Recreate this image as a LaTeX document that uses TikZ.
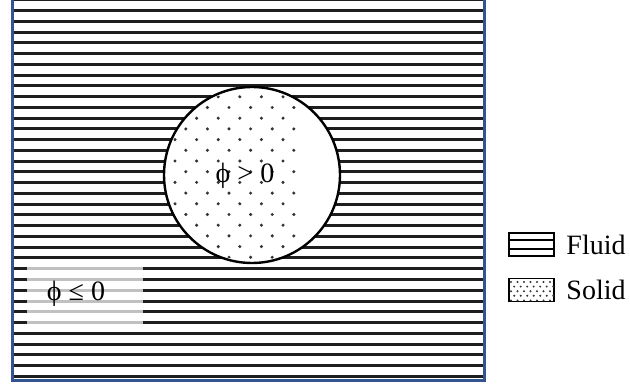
\documentclass[tikz,border=0pt]{standalone}
\usepackage{fontspec}
\setmainfont{Liberation Serif}
\usetikzlibrary{calc,positioning}
\definecolor{frameBlue}{RGB}{52,84,145}
\definecolor{hatchInk}{RGB}{30,30,30}

\begin{document}
\begin{tikzpicture}[
    x=1pt, y=-1pt,
    font=\fontsize{28}{32}\selectfont,
    hatch/.style={line width=3pt, draw=hatchInk},
    grain/.style={fill=black!80},
    frame/.style={draw=frameBlue, line width=3pt},
    legendbox/.style={
      draw=black,
      line width=1.8pt,
      fill=white,
      minimum width=45pt,
      minimum height=23pt,
      inner sep=0pt
    }
  ]
    \useasboundingbox (0,0) rectangle (630,385);

    % fluid domain
    \foreach \k in {0,...,35}
      \draw[hatch] (12,\k*10.75) -- (484,\k*10.75);
    \draw[frame] (12,-4) rectangle (484,380);

    % solid particle
    \node[circle, draw, fill=white, line width=2.4pt,
      minimum size=176pt, inner sep=0pt] (particle) at (252,175) {};
    \begin{scope}
      \clip (252,175) circle [radius=86pt];
      \foreach \r in {0,...,17}
        \foreach \c in {0,...,9}
          \fill[grain] ({88.6+21.6*\c+10.8*mod(\r,2)},{75.4+10.7*\r}) circle [radius=1.7pt];
    \end{scope}
    \node (inside) at (245,176) {ϕ > 0};

    % level set below zero
    \node[fill=white, fill opacity=0.72, minimum width=116pt,
      minimum height=67pt, inner sep=0pt] (lowzone) at (85,298.5) {};
    \node (outside) at (76,294) {ϕ ≤ 0};

    % legend
    \node[legendbox] (fluidkey) at (531.5,244.5) {};
    \draw[line width=1.8pt]
      ($(fluidkey.north west)!0.33!(fluidkey.south west)$) --
      ($(fluidkey.north east)!0.33!(fluidkey.south east)$);
    \draw[line width=1.8pt]
      ($(fluidkey.north west)!0.67!(fluidkey.south west)$) --
      ($(fluidkey.north east)!0.67!(fluidkey.south east)$);
    \node[right=8pt of fluidkey] (fluidtext) {Fluid};

    \node[legendbox] (solidkey) at (531.5,290) {};
    \begin{scope}
      \clip (solidkey.south west) rectangle (solidkey.north east);
      \foreach \r in {0,...,4}
        \foreach \c in {0,...,7}
          \fill[grain] ({511+6.5*\c+3.2*mod(\r,2)},{282+4.6*\r}) circle [radius=1.1pt];
    \end{scope}
    \node[right=8pt of solidkey] (solidtext) {Solid};
\end{tikzpicture}
\end{document}
